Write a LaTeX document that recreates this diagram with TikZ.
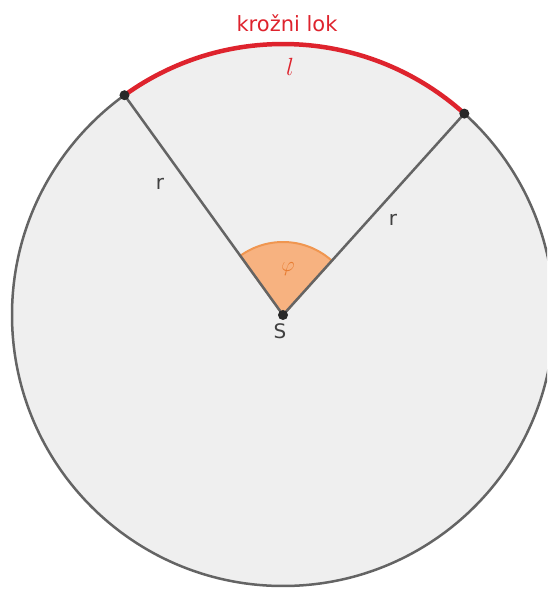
\documentclass[tikz,border=0pt]{standalone}
\usepackage{fontspec}
\setsansfont{DejaVu Sans}
\usetikzlibrary{calc}
\definecolor{circfill}{RGB}{239,239,239}
\definecolor{circline}{RGB}{100,100,100}
\definecolor{arcred}{RGB}{222,35,45}
\definecolor{angfill}{RGB}{247,178,128}
\definecolor{angline}{RGB}{240,150,80}
\definecolor{angtext}{RGB}{232,125,50}
\definecolor{dotcol}{RGB}{40,40,40}
\tikzset{
  radline/.style={draw=circline, line width=2.5pt},
  pt/.style={circle, fill=dotcol, inner sep=0pt, minimum size=10pt},
  lab/.style={font=\sffamily\fontsize{20}{24}\selectfont, text=black!75},
}
\begin{document}
\begin{tikzpicture}[x=1pt,y=1pt]
\useasboundingbox (0,0) rectangle (547,589);
\clip (0,0) rectangle (547,589);
\def\R{271}
\coordinate (S) at (283,274);
\coordinate (A) at ($(S)+(125.8:\R)$);
\coordinate (B) at ($(S)+(48:\R)$);
\draw[fill=circfill, draw=circline, line width=2.5pt] (S) circle[radius=\R];
\draw[fill=angfill, draw=angline, line width=2pt] (S) -- ($(S)+(48:73)$) arc[start angle=48, end angle=125.8, radius=73] -- cycle;
\draw[radline] (S) -- (A);
\draw[radline] (S) -- (B);
\draw[draw=arcred, line width=4.5pt] (A) arc[start angle=125.8, end angle=48, radius=\R];
\node[pt] (Sd) at (S) {};
\node[pt] (Ad) at (A) {};
\node[pt] (Bd) at (B) {};
\node[lab] (Sl) at (280,258) {S};
\node[lab] (r1) at (160,405) {r};
\node[lab] (r2) at (393,369) {r};
\node[text=angtext, font=\fontsize{22}{26}\selectfont] (phi) at (288,320) {$\varphi$};
\node[text=arcred, font=\fontsize{26}{30}\selectfont] (ll) at (290,522) {$l$};
\node[text=arcred, font=\sffamily\fontsize{21}{25}\selectfont] (kl) at (287,566) {krožni lok};
\end{tikzpicture}
\end{document}
